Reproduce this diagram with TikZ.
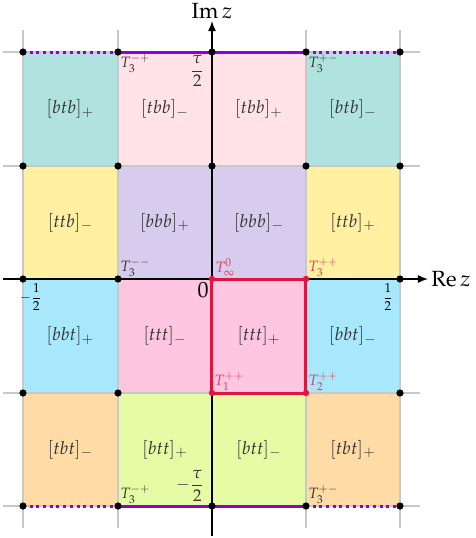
\documentclass[tikz,border=0pt]{standalone}
\usepackage{amsmath}
\usepackage{mathpazo}
\usetikzlibrary{arrows.meta}
\definecolor{cTeal}{HTML}{B0E2DF}
\definecolor{cLpink}{HTML}{FFE3E8}
\definecolor{cYel}{HTML}{FFF0A2}
\definecolor{cLav}{HTML}{D8CCEE}
\definecolor{cBlue}{HTML}{A8E8FC}
\definecolor{cPink}{HTML}{FFC6E2}
\definecolor{cOrng}{HTML}{FFDCA6}
\definecolor{cLime}{HTML}{E6FCA4}
\definecolor{cPurp}{HTML}{9000D6}
\definecolor{cRed}{HTML}{E0143C}
\definecolor{cGrid}{HTML}{C8C8C8}
\tikzset{
  gridline/.style={draw=cGrid, line width=0.7pt},
  lab/.style={text=black!80, font=\fontsize{9}{10}\selectfont, inner sep=0pt},
  tlab/.style={text=black!80, font=\fontsize{7.5}{8}\selectfont, inner sep=1pt},
  rlab/.style={text=cRed!85, font=\fontsize{7.5}{8}\selectfont, inner sep=1pt},
  purp/.style={draw=cPurp, line width=1.5pt},
  purpdot/.style={draw=cPurp, line width=1.5pt, dash pattern=on 1.5pt off 1.85pt},
  blkdot/.style={draw=black, line width=1.2pt, dash pattern=on 1.2pt off 1.4pt},
  redline/.style={draw=cRed, line width=1.5pt, line join=round},
  axisline/.style={draw=black, line width=0.7pt},
  vtx/.style={circle, fill=black, inner sep=0pt, minimum size=3.6pt},
  rvtx/.style={circle, fill=cRed, inner sep=0pt, minimum size=3.2pt},
}
\begin{document}
\begin{tikzpicture}[x=0.5pt,y=-0.5pt]
\useasboundingbox (0,0) rectangle (476,538);
% grid coordinates
\foreach \i/\x in {0/23,1/118,2/212,3/306,4/400}{
  \foreach \j/\y in {0/52,1/166,2/279,3/393,4/506}{
    \coordinate (g\i\j) at (\x,\y);
  }
}
% cell fills
\fill[cTeal]  (g00) rectangle (g11);
\fill[cLpink] (g10) rectangle (g21);
\fill[cLpink] (g20) rectangle (g31);
\fill[cTeal]  (g30) rectangle (g41);
\fill[cYel]   (g01) rectangle (g12);
\fill[cLav]   (g11) rectangle (g22);
\fill[cLav]   (g21) rectangle (g32);
\fill[cYel]   (g31) rectangle (g42);
\fill[cBlue]  (g02) rectangle (g13);
\fill[cPink]  (g12) rectangle (g23);
\fill[cPink]  (g22) rectangle (g33);
\fill[cBlue]  (g32) rectangle (g43);
\fill[cOrng]  (g03) rectangle (g14);
\fill[cLime]  (g13) rectangle (g24);
\fill[cLime]  (g23) rectangle (g34);
\fill[cOrng]  (g33) rectangle (g44);
% grid lines
\foreach \x in {23,118,306,400}{ \draw[gridline] (\x,30) -- (\x,528); }
\foreach \y in {52,166,393,506}{ \draw[gridline] (3,\y) -- (420,\y); }
% cell labels
\node[lab] (c00) at (70.5,109)  {$[btb]_+$};
\node[lab] (c10) at (165,109)   {$[tbb]_-$};
\node[lab] (c20) at (259,109)   {$[tbb]_+$};
\node[lab] (c30) at (353,109)   {$[btb]_-$};
\node[lab] (c01) at (70.5,222.5) {$[ttb]_-$};
\node[lab] (c11) at (165,222.5)  {$[bbb]_+$};
\node[lab] (c21) at (259,222.5)  {$[bbb]_-$};
\node[lab] (c31) at (353,222.5)  {$[ttb]_+$};
\node[lab] (c02) at (70.5,336)  {$[bbt]_+$};
\node[lab] (c12) at (165,336)   {$[ttt]_-$};
\node[lab] (c22) at (259,336)   {$[ttt]_+$};
\node[lab] (c32) at (353,336)   {$[bbt]_-$};
\node[lab] (c03) at (70.5,449.5) {$[tbt]_-$};
\node[lab] (c13) at (165,449.5)  {$[btt]_+$};
\node[lab] (c23) at (259,449.5)  {$[btt]_-$};
\node[lab] (c33) at (353,449.5)  {$[tbt]_+$};
% axes
\coordinate (axL) at (3,279);
\node[anchor=west, inner sep=1.5pt, font=\fontsize{11}{12}\selectfont] (re) at (428,279) {$\operatorname{Re} z$};
\draw[axisline, -{Latex[length=5pt,width=4pt]}] (axL) -- (re.west);
\coordinate (axB) at (212,536);
\node[anchor=south, inner sep=1pt, font=\fontsize{11}{12}\selectfont] (im) at (212,21) {$\operatorname{Im} z$};
\draw[axisline, -{Latex[length=5pt,width=4pt]}] (axB) -- (im.south);
% special boundaries
\draw[purp] (g10) -- (g30);
\draw[purp] (g14) -- (g34);
\draw[purpdot] (g00) -- (g10);
\draw[purpdot] (g30) -- (g40);
\draw[purpdot] (g04) -- (g14);
\draw[purpdot] (g34) -- (g44);
\draw[blkdot] (g02) -- (g12);
\draw[blkdot] (g32) -- (g42);
\draw[draw=black, line width=1.2pt] (g12) -- (g22);
\draw[redline] (g22) -- (g32) -- (g33) -- (g23) -- cycle;
% vertices
\foreach \n in {00,10,20,30,40,01,11,21,31,41,02,12,42,03,13,43,04,14,24,34,44}{
  \node[vtx] (v\n) at (g\n) {};
}
\foreach \n in {22,32,23,33}{
  \node[rvtx] (v\n) at (g\n) {};
}
% point labels
\node[tlab, anchor=north west] (t10) at (g10) {$T_3^{-+}$};
\node[tlab, anchor=north west] (t30) at (g30) {$T_3^{+-}$};
\node[anchor=north east, inner sep=1pt, text=black!80, font=\fontsize{8.5}{9}\selectfont] (tau) at (207,53) {$\dfrac{\tau}{2}$};
\node[tlab, anchor=south west] (t12) at (g12) {$T_3^{--}$};
\node[rlab, anchor=south west] (t22) at ([xshift=0.5pt,yshift=0.3pt]g22) {$T_\infty^0$};
\node[rlab, anchor=south west] (t32) at (g32) {$T_3^{++}$};
\node[anchor=north east, inner sep=1.5pt, font=\fontsize{11}{12}\selectfont] (zero) at (g22) {$0$};
\node[anchor=north, inner sep=1pt, font=\fontsize{6.5}{7}\selectfont] (mhalf) at (31,281) {$-\dfrac{1}{2}$};
\node[anchor=north east, inner sep=1pt, font=\fontsize{6.5}{7}\selectfont] (phalf) at (396,281) {$\dfrac{1}{2}$};
\node[rlab, anchor=south west] (t23) at (g23) {$T_1^{++}$};
\node[rlab, anchor=south west] (t33) at (g33) {$T_2^{++}$};
\node[tlab, anchor=south west] (t14) at (g14) {$T_3^{-+}$};
\node[tlab, anchor=south west] (t34) at (g34) {$T_3^{+-}$};
\node[anchor=south east, inner sep=1pt, text=black!80, font=\fontsize{8.5}{9}\selectfont] (mtau) at (207,504) {$-\dfrac{\tau}{2}$};
\end{tikzpicture}
\end{document}
